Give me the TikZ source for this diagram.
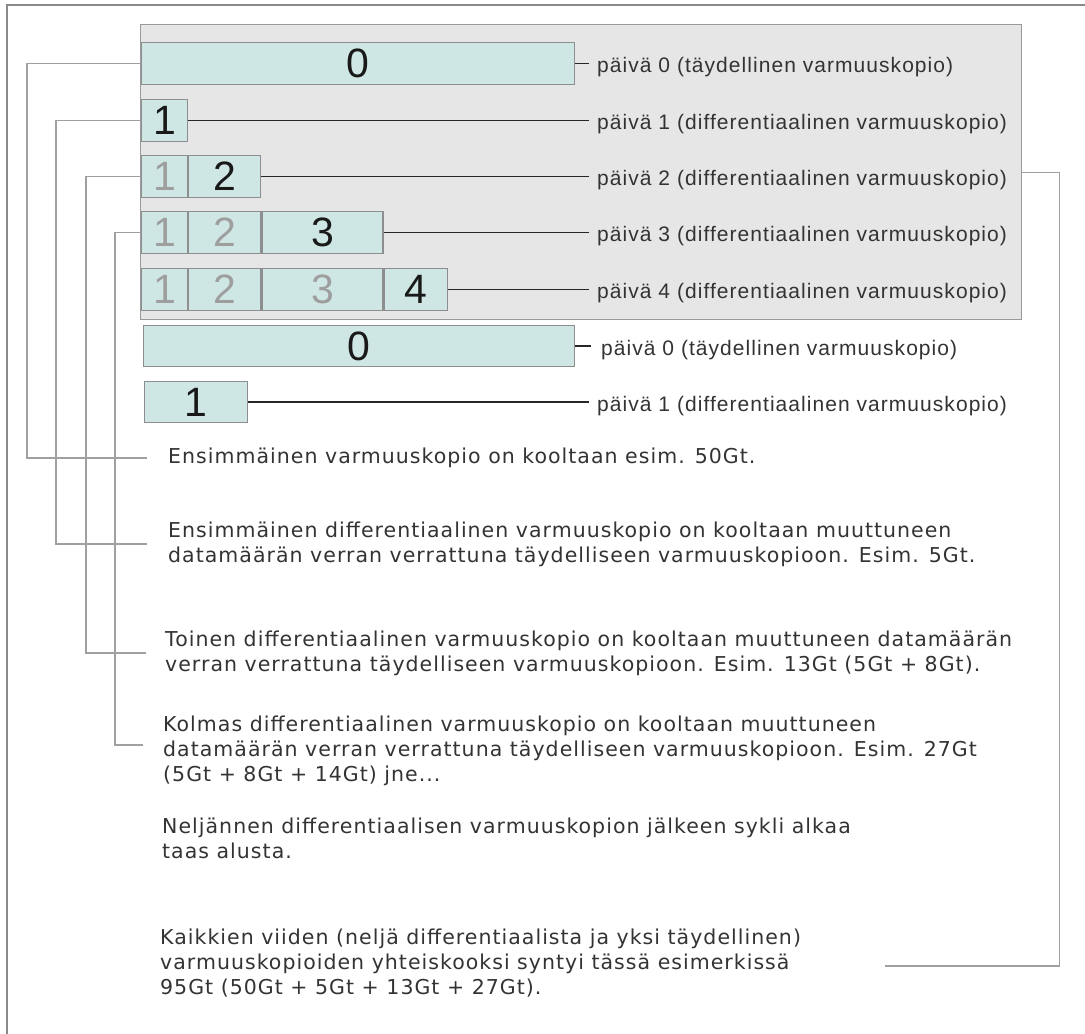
\documentclass[tikz,border=0pt]{standalone}
\usepackage{fontspec}
\usetikzlibrary{positioning}

\newfontfamily\labelfont[LetterSpace=5]{Liberation Sans}
\newfontfamily\notefont[LetterSpace=5]{DejaVu Sans}
\newfontfamily\digitfont{Liberation Sans}

\definecolor{panelfill}{HTML}{E6E6E6}
\definecolor{panelline}{HTML}{9A9A9A}
\definecolor{cellfill}{HTML}{CFE7E4}
\definecolor{cellline}{HTML}{8E8E8E}
\definecolor{linkgray}{HTML}{A0A0A0}
\definecolor{textgray}{HTML}{333333}
\definecolor{olddigit}{HTML}{9E9E9E}
\definecolor{framegray}{HTML}{8A8A8A}

\begin{document}
\begin{tikzpicture}[x=1pt, y=-1pt,
    panel/.style={draw=panelline, fill=panelfill, line width=1.4pt, inner sep=0pt, anchor=north west},
    cell/.style={draw=cellline, fill=cellfill, line width=1.2pt, inner sep=0pt, minimum height=42pt,
                 anchor=north west, text=black!90, font=\digitfont\fontsize{41}{41}\selectfont},
    old/.style={text=olddigit},
    daylabel/.style={anchor=west, inner sep=0pt, text=textgray, font=\labelfont\fontsize{21}{24}\selectfont},
    note/.style={anchor=west, inner sep=0pt, align=left, text=textgray,
                 font=\notefont\fontsize{20.5}{25}\selectfont},
    tick/.style={draw=black!85, line width=1.3pt},
    link/.style={draw=linkgray, line width=1.3pt}]
\useasboundingbox (0,0) rectangle (1085,1034);

% outer frame (only left and top edges show)
\draw[framegray, line width=1.4pt] (7,1040) -- (7,5) -- (1090,5);

% backup cycle: one full + four differentials
\node[panel, minimum width=881pt, minimum height=295pt] (panel) at (140,24) {};

\node[cell, minimum width=433pt] (b0) at (141,42) {0};
\node[cell, minimum width=46pt] (b1) at (141,99) {1};

\node[cell, old, minimum width=46pt] (r2a) at (141,155) {1};
\node[cell, minimum width=72pt, right=0pt of r2a] (r2b) {2};

\node[cell, old, minimum width=46pt] (r3a) at (141,211) {1};
\node[cell, old, minimum width=72pt, right=0pt of r3a] (r3b) {2};
\node[cell, minimum width=121pt, right=0pt of r3b] (r3c) {3};

\node[cell, old, minimum width=46pt] (r4a) at (141,268) {1};
\node[cell, old, minimum width=72pt, right=0pt of r4a] (r4b) {2};
\node[cell, old, minimum width=121pt, right=0pt of r4b] (r4c) {3};
\node[cell, minimum width=63pt, right=0pt of r4c] (r4d) {4};

% next cycle starts again
\node[cell, minimum width=431pt, minimum height=41pt] (c0) at (143,325) {0};
\node[cell, minimum width=103pt, minimum height=41pt] (c1) at (144,381) {1};

% day labels
\node[daylabel] (l0) at (597,67) {päivä 0 (täydellinen varmuuskopio)};
\node[daylabel] (l1) at (597,124) {päivä 1 (differentiaalinen varmuuskopio)};
\node[daylabel] (l2) at (597,180) {päivä 2 (differentiaalinen varmuuskopio)};
\node[daylabel] (l3) at (597,236) {päivä 3 (differentiaalinen varmuuskopio)};
\node[daylabel] (l4) at (597,293) {päivä 4 (differentiaalinen varmuuskopio)};
\node[daylabel] (m0) at (601,350) {päivä 0 (täydellinen varmuuskopio)};
\node[daylabel] (m1) at (597,406) {päivä 1 (differentiaalinen varmuuskopio)};

\draw[tick] (b0.east) -- ([xshift=-8pt]b0.east -| l0.west);
\draw[tick] (b1.east) -- ([xshift=-8pt]b1.east -| l1.west);
\draw[tick] (r2b.east) -- ([xshift=-8pt]r2b.east -| l2.west);
\draw[tick] (r3c.east) -- ([xshift=-8pt]r3c.east -| l3.west);
\draw[tick] (r4d.east) -- ([xshift=-8pt]r4d.east -| l4.west);
\draw[tick] (c0.east) -- ([xshift=-10pt]c0.east -| m0.west);
\draw[tick] (c1.east) -- ([xshift=-8pt]c1.east -| m1.west);

% explanations
\node[note] (t1) at (168,458) {Ensimmäinen varmuuskopio on kooltaan esim. 50Gt.};
\node[note] (t2) at (168,544) {Ensimmäinen differentiaalinen varmuuskopio on kooltaan muuttuneen\\
  datamäärän verran verrattuna täydelliseen varmuuskopioon. Esim. 5Gt.};
\node[note] (t3) at (165,653) {Toinen differentiaalinen varmuuskopio on kooltaan muuttuneen datamäärän\\
  verran verrattuna täydelliseen varmuuskopioon. Esim. 13Gt (5Gt + 8Gt).};
\node[note] (t4) at (163,751) {Kolmas differentiaalinen varmuuskopio on kooltaan muuttuneen\\
  datamäärän verran verrattuna täydelliseen varmuuskopioon. Esim. 27Gt\\
  (5Gt + 8Gt + 14Gt) jne...};
\node[note] (t5) at (162,838) {Neljännen differentiaalisen varmuuskopion jälkeen sykli alkaa\\
  taas alusta.};
\node[note] (t6) at (160,963) {Kaikkien viiden (neljä differentiaalista ja yksi täydellinen)\\
  varmuuskopioiden yhteiskooksi syntyi tässä esimerkissä\\
  95Gt (50Gt + 5Gt + 13Gt + 27Gt).};

% connectors from each backup to its explanation
\draw[link, shorten >=21pt] (b0.west) -- ++(-114,0) |- (t1.west);
\draw[link, shorten >=21pt] (b1.west) -- ++(-85,0) |- (t2.west);
\draw[link, shorten >=19pt] (r2a.west) -- ++(-55,0) |- (t3.west);
\draw[link, shorten >=20pt] (r3a.west) -- ++(-26,0) |- ([yshift=6pt]t4.west);

\coordinate (sumend) at (885,966);
\draw[link] (panel.east) -- ++(37,0) |- (sumend);
\end{tikzpicture}
\end{document}
